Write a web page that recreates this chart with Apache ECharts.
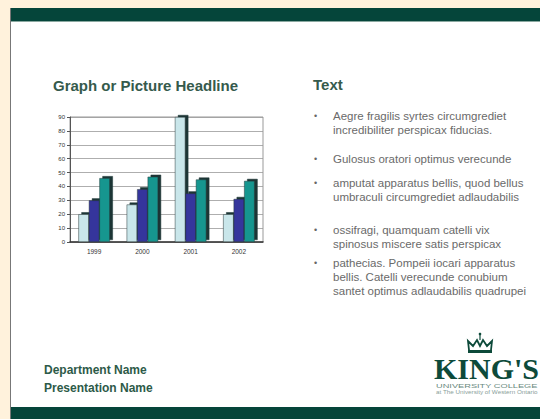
<!DOCTYPE html>
<html>
<head>
<meta charset="utf-8">
<script src="https://cdn.jsdelivr.net/npm/echarts@6/dist/echarts.min.js"></script>
<style>
html,body{margin:0;padding:0;background:#fff2dc;}
#c{width:540px;height:419px;}
</style>
</head>
<body>
<div id="c"></div>
<script>
const categories = ['1999', '2000', '2001', '2002'];
const seriesA = [20, 27, 90, 20];
const seriesB = [30, 38, 35, 31];
const seriesC = [46, 47, 45, 44];
const yTicks = [0, 10, 20, 30, 40, 50, 60, 70, 80, 90];

const bulletLines = [
  ['Aegre fragilis syrtes circumgrediet', 'incredibiliter perspicax fiducias.'],
  ['Gulosus oratori optimus verecunde'],
  ['amputat apparatus bellis, quod bellus', 'umbraculi circumgrediet adlaudabilis'],
  ['ossifragi, quamquam catelli vix', 'spinosus miscere satis perspicax'],
  ['pathecias. Pompeii iocari apparatus', 'bellis. Catelli verecunde conubium', 'santet optimus adlaudabilis quadrupei']
];
const bulletY = [116, 159, 183, 230, 263];

const chart = echarts.init(document.getElementById('c'), null, {renderer: 'svg'});

const green = '#0d4a3a';
const graphics = [
  {type: 'rect', shape: {x: 0, y: 0, width: 540, height: 419}, style: {fill: '#fff2dc'}, z: -10},
  {type: 'rect', shape: {x: 10, y: 8, width: 530, height: 400}, style: {fill: '#ffffff'}, z: -9},
  {type: 'rect', shape: {x: 10, y: 8, width: 1, height: 411}, style: {fill: '#777777'}, z: -8},
  {type: 'rect', shape: {x: 11, y: 8, width: 529, height: 13}, style: {fill: '#05453a'}, z: -8},
  {type: 'rect', shape: {x: 11, y: 21, width: 529, height: 1}, style: {fill: '#8aa8a0'}, z: -8},
  {type: 'rect', shape: {x: 11, y: 407, width: 529, height: 12}, style: {fill: '#05453a'}, z: -8},
  {type: 'text', x: 53, y: 78, style: {text: 'Graph or Picture Headline', font: 'bold 15px "Liberation Sans", Arial', fill: '#355a4c'}},
  {type: 'text', x: 313, y: 77, style: {text: 'Text', font: 'bold 15px "Liberation Sans", Arial', fill: '#355a4c'}},
  {type: 'text', x: 44, y: 364, style: {text: 'Department Name', font: 'bold 12px "Liberation Sans", Arial', fill: '#2d5a48'}},
  {type: 'text', x: 44, y: 382, style: {text: 'Presentation Name', font: 'bold 12px "Liberation Sans", Arial', fill: '#2d5a48'}},
  {type: 'text', x: 434, y: 353, style: {text: "KING'S", font: 'bold 30px "Liberation Serif", "DejaVu Serif", serif', fill: green}},
  {type: 'text', x: 436, y: 384, scaleX: 1.85, style: {text: 'UNIVERSITY COLLEGE', font: '5px "Liberation Sans", Arial', fill: '#6a8a80'}},
  {type: 'text', x: 436, y: 390, scaleX: 1.4, style: {text: 'at The University of Western Ontario', font: '4.5px "Liberation Sans", Arial', fill: '#8aa09a'}},
  {type: 'polyline', shape: {points: [[469,350],[468,341],[473,346],[477,340],[480,346],[483,340],[487,346],[492,341],[491,350]]}, style: {stroke: green, lineWidth: 1.8, fill: 'none'}},
  {type: 'rect', shape: {x: 468, y: 350, width: 24, height: 3}, style: {fill: green}},
  {type: 'circle', shape: {cx: 480, cy: 334, r: 1.3}, style: {fill: green}},
  {type: 'rect', shape: {x: 479.4, y: 335, width: 1.2, height: 5}, style: {fill: green}}
];

bulletLines.forEach((lines, i) => {
  graphics.push({type: 'text', x: 314, y: bulletY[i] - 5, style: {text: '•', font: '9px "Liberation Sans", Arial', fill: '#666'}});
  lines.forEach((ln, j) => {
    graphics.push({type: 'text', x: 333, y: bulletY[i] - 6 + j * 14, style: {text: ln, font: '11.5px "Liberation Sans", Arial', fill: '#6a6a6a'}});
  });
});

function barSeries(name, data, color) {
  return {
    name, type: 'bar', data, barWidth: 10.5, barGap: '0%',
    itemStyle: {color, borderColor: '#2a3a3a', borderWidth: 0.5,
      shadowColor: '#1e3434', shadowOffsetX: 3, shadowOffsetY: -2, shadowBlur: 0}
  };
}

chart.setOption({
  animation: false,
  backgroundColor: 'transparent',
  graphic: graphics,
  grid: {left: 70, top: 117, right: 277, bottom: 177, show: true, borderColor: '#999', borderWidth: 1, backgroundColor: '#fff'},
  xAxis: {
    type: 'category', data: categories,
    axisLine: {lineStyle: {color: '#333', width: 1.5}},
    axisTick: {show: false},
    axisLabel: {fontSize: 6.5, color: '#333', margin: 6, fontFamily: '"Liberation Sans", Arial'}
  },
  yAxis: {
    type: 'value', min: 0, max: 90, interval: 10,
    axisLine: {show: true, lineStyle: {color: '#555'}},
    axisTick: {show: true, length: 3, lineStyle: {color: '#555'}},
    axisLabel: {fontSize: 6, color: '#333', margin: 5, fontFamily: '"Liberation Sans", Arial',
      formatter: v => yTicks.includes(v) ? String(v) : ''},
    splitLine: {lineStyle: {color: '#999', width: 0.8}}
  },
  series: [
    barSeries('A', seriesA, '#c9e6ea'),
    barSeries('B', seriesB, '#34349c'),
    barSeries('C', seriesC, '#14968f')
  ]
});
</script>
</body>
</html>
